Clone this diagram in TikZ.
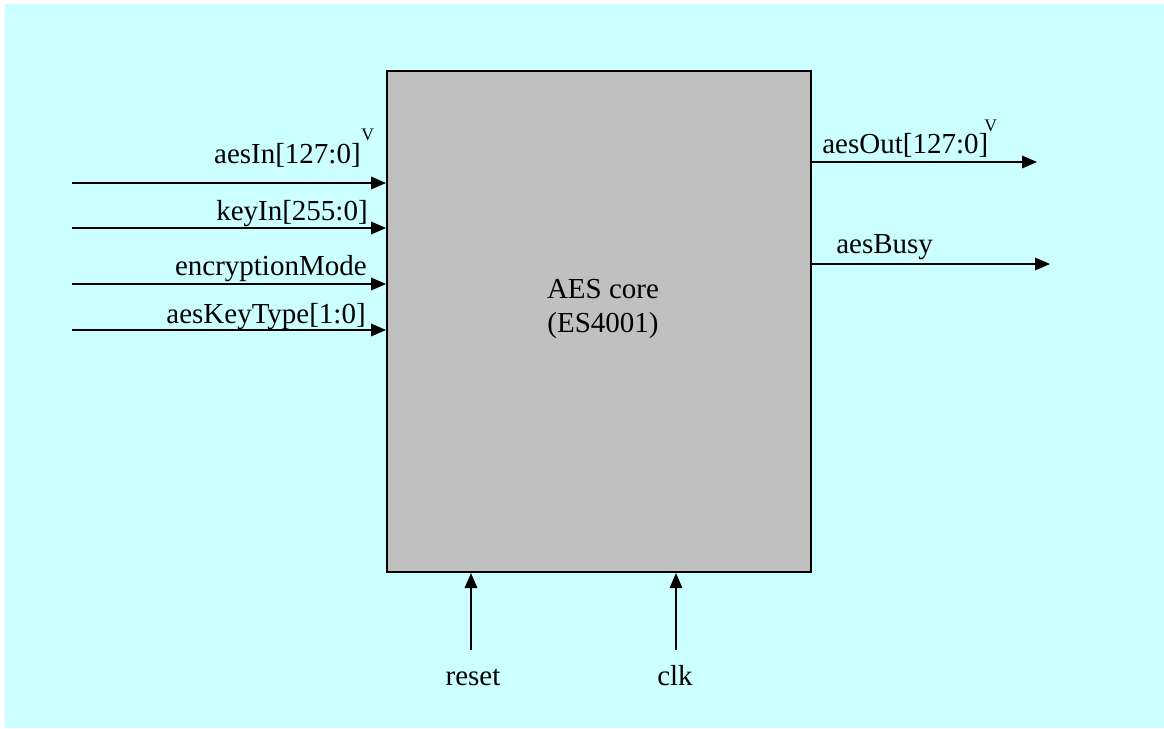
\documentclass[tikz,border=0pt]{standalone}
\usepackage{fontspec}
\setmainfont{Liberation Serif}
\usetikzlibrary{arrows.meta}
\definecolor{bgcyan}{HTML}{CCFFFF}
\definecolor{coregray}{HTML}{C0C0C0}
\tikzset{
  sig/.style={line width=0.6pt, -{Triangle[length=8.5pt,width=7.2pt]}},
  lbl/.style={font=\fontsize{16.5}{19.8}\selectfont, inner sep=0pt},
  sup/.style={font=\fontsize{10}{12}\selectfont, inner sep=0pt},
  corebox/.style={draw=black, line width=1.2pt, fill=coregray, inner sep=0pt},
}
\begin{document}
\begin{tikzpicture}[x=0.02cm,y=-0.02cm]
\useasboundingbox (0,0) rectangle (1164,728);
\fill[bgcyan] (5,4) rectangle (1164,728);
% core
\node[corebox, minimum width=424*0.02cm, minimum height=501*0.02cm, anchor=north west] (core) at (386,70) {};
\node[lbl, align=center] (title) at (603,309) {AES core\\(ES4001)};
% inputs
\coordinate (inA) at (72,183);
\coordinate (inK) at (72,228);
\coordinate (inE) at (72,284);
\coordinate (inT) at (72,330);
\draw[sig] (inA) -- (inA -| core.west);
\draw[sig] (inK) -- (inK -| core.west);
\draw[sig] (inE) -- (inE -| core.west);
\draw[sig] (inT) -- (inT -| core.west);
\node[lbl, anchor=base east] (lA) at (361,163) {aesIn[127:0]};
\node[sup, anchor=base west] (vA) at (361,140) {V};
\node[lbl, anchor=base east] (lK) at (368,220) {keyIn[255:0]};
\node[lbl, anchor=base east] (lE) at (367,275) {encryptionMode};
\node[lbl, anchor=base east] (lT) at (366,323) {aesKeyType[1:0]};
% outputs
\coordinate (outO) at (1037,162);
\coordinate (outB) at (1050,264);
\draw[sig] (outO -| core.east) -- (outO);
\draw[sig] (outB -| core.east) -- (outB);
\node[lbl, anchor=base west] (lO) at (822,153) {aesOut[127:0]};
\node[sup, anchor=base west] (vO) at (984,131) {V};
\node[lbl, anchor=base west] (lB) at (836,253) {aesBusy};
% bottom
\coordinate (rst) at (471,650);
\coordinate (clk) at (676,650);
\draw[sig] (rst) -- (rst |- core.south);
\draw[sig] (clk) -- (clk |- core.south);
\node[lbl, anchor=base] (lR) at (473,685) {reset};
\node[lbl, anchor=base] (lC) at (675,685) {clk};
\end{tikzpicture}
\end{document}
